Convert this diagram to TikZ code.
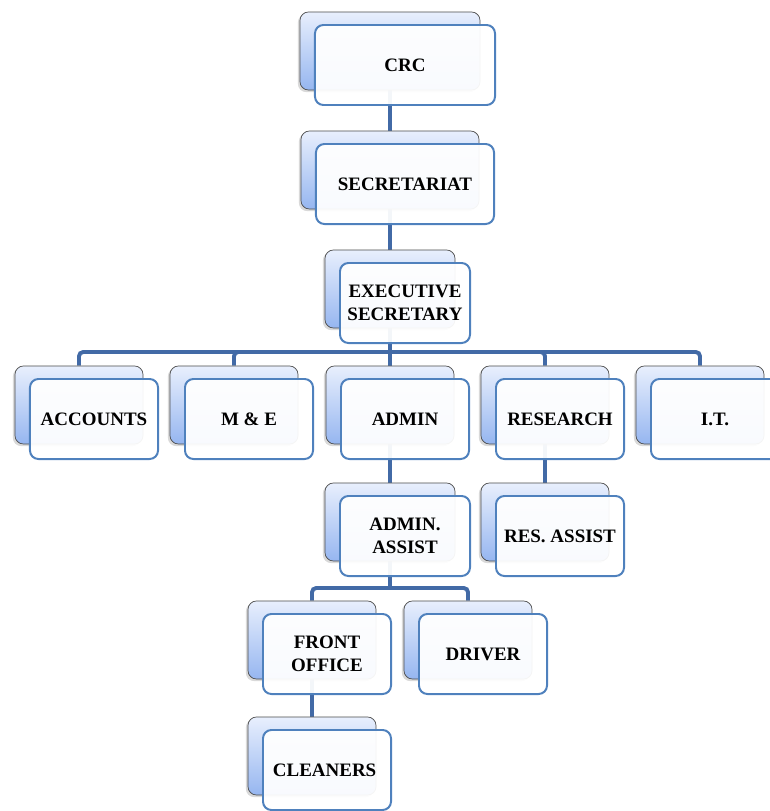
\documentclass[tikz,border=0pt]{standalone}
\usepackage{fontspec}
\setmainfont{Liberation Serif}
\usetikzlibrary{backgrounds,shadows}
\definecolor{linkblue}{RGB}{66,106,166}
\definecolor{boxedge}{RGB}{79,129,189}
\definecolor{backtop}{RGB}{232,239,253}
\definecolor{backbot}{RGB}{150,182,240}
\tikzset{
	back/.style={draw=gray!60!black, line width=0.5pt, rounded corners=6pt,
		top color=backtop, bottom color=backbot, minimum width=3.2cm, minimum height=1.95cm,
		drop shadow={opacity=0.3, shadow xshift=-1.5pt, shadow yshift=-1.5pt}},
	front/.style={draw=boxedge, line width=1.4pt, rounded corners=6pt,
		fill=white, fill opacity=0.94, text opacity=1, minimum width=3.2cm, minimum height=2cm,
		font=\fontsize{13.5}{16}\selectfont\bfseries, align=center},
	link/.style={draw=linkblue, line width=2.8pt, rounded corners=3pt}
}
\begin{document}
\begin{tikzpicture}[x=0.025cm, y=-0.025cm]
	
	\useasboundingbox (0,0) rectangle (770,811);
	
	\foreach \n/\x/\y/\w/\t in {
		crc/390/51/4.5/CRC,
		sec/390/170/4.45/SECRETARIAT,
		exec/390/289/3.25/{EXECUTIVE\\SECRETARY},
		acc/79/405/3.2/ACCOUNTS,
		me/234/405/3.2/{M \& E},
		admin/390/405/3.2/ADMIN,
		res/545/405/3.2/RESEARCH,
		it/700/405/3.2/I.T.,
		aa/390/522/3.25/{ADMIN.\\ASSIST},
		ra/545/522/3.2/{RES. ASSIST},
		fo/312/640/3.2/{FRONT\\OFFICE},
		drv/468/640/3.2/DRIVER,
		cl/312/756/3.2/CLEANERS
	}{
		\node[back, minimum width=\w cm] (\n-b) at (\x,\y) {};
		\node[front, minimum width=\w cm] (\n) at (\x+15,\y+14) {\t};
	}
	
	\coordinate (bar1) at (390,352);
	\coordinate (bar2) at (390,588);
	
	\begin{scope}[on background layer]
		\draw[link] (crc-b.south) -- (sec-b.north);
		\draw[link] (sec-b.south) -- (exec-b.north);
		\draw[link] (exec-b.south) -- (bar1);
		\foreach \n in {acc,me,admin,res,it}
			\draw[link] (bar1) -| (\n-b.north);
		\draw[link] (admin-b.south) -- (aa-b.north);
		\draw[link] (res-b.south) -- (ra-b.north);
		\draw[link] (aa-b.south) -- (bar2);
		\foreach \n in {fo,drv}
			\draw[link] (bar2) -| (\n-b.north);
		\draw[link] (fo-b.south) -- (cl-b.north);
	\end{scope}
	
\end{tikzpicture}
\end{document}
